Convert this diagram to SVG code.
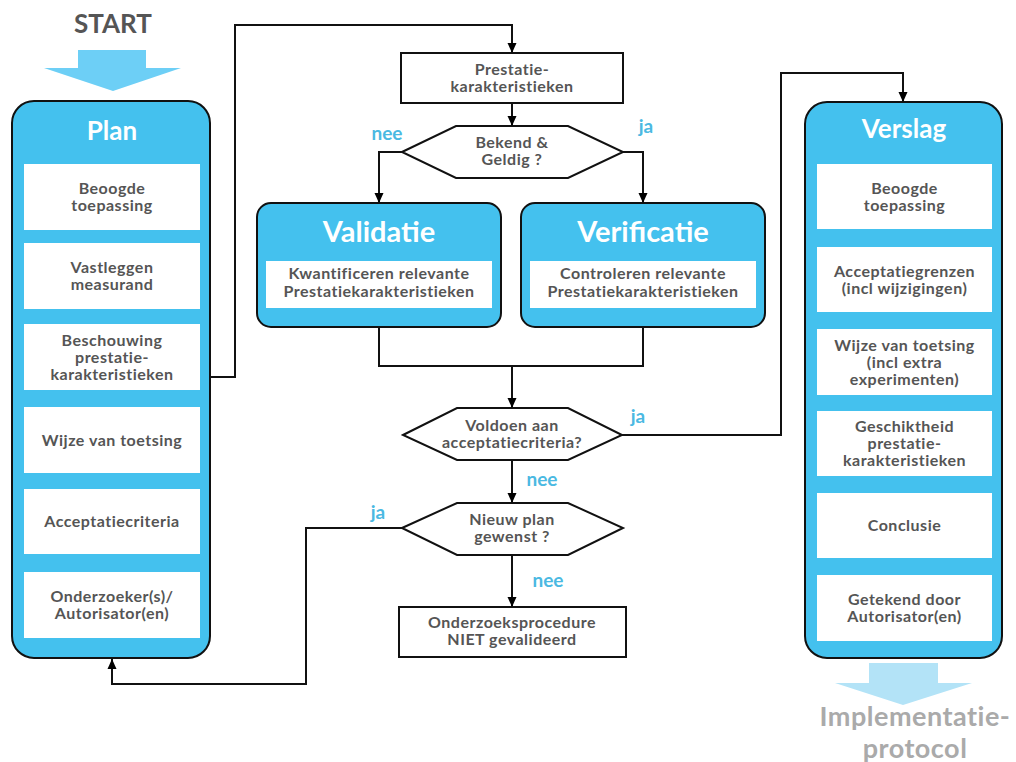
<svg xmlns="http://www.w3.org/2000/svg" width="1016" height="762" viewBox="0 0 1016 762">
<defs>
<marker id="ah" markerUnits="userSpaceOnUse" markerWidth="10" markerHeight="10" refX="10" refY="5" orient="auto">
<path d="M0,0.5 L10,5 L0,9.5 z" fill="#000"/>
</marker>
<style>
.panel{fill:#44c1ee;stroke:#111;stroke-width:2}
.inner{fill:#fff}
.t{font-family:Lato,"Open Sans",sans-serif;font-weight:bold;font-size:16px;letter-spacing:0.5px;fill:#555;text-anchor:middle}
.title{font-family:Lato,"Open Sans",sans-serif;font-weight:bold;font-size:26px;fill:#fff;text-anchor:middle}
.big{font-family:Lato,"Open Sans",sans-serif;font-weight:bold;font-size:29px;fill:#fff;text-anchor:middle}
.lbl{font-family:Lato,"Open Sans",sans-serif;font-weight:bold;font-size:19px;fill:#4bb9e2;text-anchor:middle}
.box{fill:#fff;stroke:#111;stroke-width:2}
.con{fill:none;stroke:#111;stroke-width:2}
.impl{font-family:Lato,"Open Sans",sans-serif;font-weight:bold;font-size:27px;letter-spacing:0.5px;fill:#aaa;text-anchor:middle}
</style>
</defs>
<rect width="1016" height="762" fill="#fff"/>

<g id="start">
<text x="113" y="33" style="font-family:Lato,'Open Sans',sans-serif;font-weight:bold;font-size:26px;fill:#555;text-anchor:middle">START</text>
<path d="M78,50 H146 V68 H181 L113,91 L44,68 H78 Z" fill="#6dcff6"/>
</g>

<g id="plan">
<rect class="panel" x="12" y="101" width="198" height="557" rx="22"/>
<text class="title" x="112" y="140">Plan</text>
<rect class="inner" x="24" y="164" width="176" height="66"/>
<text class="t" x="112" y="194">Beoogde</text>
<text class="t" x="112" y="211">toepassing</text>
<rect class="inner" x="24" y="243" width="176" height="66"/>
<text class="t" x="112" y="273">Vastleggen</text>
<text class="t" x="112" y="290">measurand</text>
<rect class="inner" x="24" y="324" width="176" height="66"/>
<text class="t" x="112" y="345.5">Beschouwing</text>
<text class="t" x="112" y="362.5">prestatie-</text>
<text class="t" x="112" y="379.5">karakteristieken</text>
<rect class="inner" x="24" y="407" width="176" height="66"/>
<text class="t" x="112" y="445.5">Wijze van toetsing</text>
<rect class="inner" x="24" y="489" width="176" height="65"/>
<text class="t" x="112" y="527">Acceptatiecriteria</text>
<rect class="inner" x="24" y="572" width="176" height="66"/>
<text class="t" x="112" y="602">Onderzoeker(s)/</text>
<text class="t" x="112" y="619">Autorisator(en)</text>
</g>

<g id="prestatie">
<rect class="box" x="401" y="53" width="222" height="50"/>
<text class="t" x="512" y="75">Prestatie-</text>
<text class="t" x="512" y="92">karakteristieken</text>
</g>

<g id="bekend">
<polygon class="box" points="402,152 456,126 568,126 623,152 568,178 456,178"/>
<text class="t" x="512" y="148">Bekend &amp;</text>
<text class="t" x="512" y="165">Geldig ?</text>
</g>

<g id="validatie">
<rect class="panel" x="257" y="203" width="244" height="124" rx="14"/>
<text class="big" x="379" y="242">Validatie</text>
<rect class="inner" x="266" y="261" width="226" height="47"/>
<text class="t" x="379" y="279">Kwantificeren relevante</text>
<text class="t" x="379" y="297">Prestatiekarakteristieken</text>
</g>

<g id="verificatie">
<rect class="panel" x="521" y="203" width="244" height="124" rx="14"/>
<text class="big" x="643" y="242">Verificatie</text>
<rect class="inner" x="530" y="261" width="226" height="47"/>
<text class="t" x="643" y="279">Controleren relevante</text>
<text class="t" x="643" y="297">Prestatiekarakteristieken</text>
</g>

<g id="voldoen">
<polygon class="box" points="403,435 457,408 568,408 622,435 568,460 457,460"/>
<text class="t" x="512" y="431">Voldoen aan</text>
<text class="t" x="512" y="448">acceptatiecriteria?</text>
</g>

<g id="nieuw">
<polygon class="box" points="402,528 457,503 568,503 623,528 568,555 457,555"/>
<text class="t" x="512" y="525">Nieuw plan</text>
<text class="t" x="512" y="542">gewenst ?</text>
</g>

<g id="niet">
<rect class="box" x="399" y="607" width="227" height="50"/>
<text class="t" x="512" y="628">Onderzoeksprocedure</text>
<text class="t" x="512" y="645">NIET gevalideerd</text>
</g>

<g id="verslag">
<rect class="panel" x="805" y="102" width="197" height="556" rx="22"/>
<text class="title" x="904" y="138">Verslag</text>
<rect class="inner" x="817" y="164" width="175" height="65"/>
<text class="t" x="904.5" y="193.5">Beoogde</text>
<text class="t" x="904.5" y="210.5">toepassing</text>
<rect class="inner" x="817" y="247" width="175" height="65"/>
<text class="t" x="904.5" y="276.5">Acceptatiegrenzen</text>
<text class="t" x="904.5" y="293.5">(incl wijzigingen)</text>
<rect class="inner" x="817" y="329" width="175" height="66"/>
<text class="t" x="904.5" y="350.5">Wijze van toetsing</text>
<text class="t" x="904.5" y="367.5">(incl extra</text>
<text class="t" x="904.5" y="384.5">experimenten)</text>
<rect class="inner" x="817" y="411" width="175" height="65"/>
<text class="t" x="904.5" y="432">Geschiktheid</text>
<text class="t" x="904.5" y="449">prestatie-</text>
<text class="t" x="904.5" y="466">karakteristieken</text>
<rect class="inner" x="817" y="493" width="175" height="65"/>
<text class="t" x="904.5" y="531">Conclusie</text>
<rect class="inner" x="817" y="575" width="175" height="66"/>
<text class="t" x="904.5" y="604.5">Getekend door</text>
<text class="t" x="904.5" y="621.5">Autorisator(en)</text>
</g>

<g id="implementatie">
<path d="M869,663 H938 V683 H972 L903,705 L835,683 H869 Z" fill="#b3e3f7"/>
<text class="impl" x="915" y="726">Implementatie-</text>
<text class="impl" x="915" y="758">protocol</text>
</g>

<g id="connectors">
<path class="con" d="M210,377 H235 V25 H512 V53" marker-end="url(#ah)"/>
<path class="con" d="M512,103 V126" marker-end="url(#ah)"/>
<path class="con" d="M402,152 H379 V203" marker-end="url(#ah)"/>
<path class="con" d="M623,152 H643 V203" marker-end="url(#ah)"/>
<path class="con" d="M379,327 V366 H643 V327"/>
<path class="con" d="M512,366 V408" marker-end="url(#ah)"/>
<path class="con" d="M622,435 H781 V73 H903 V102" marker-end="url(#ah)"/>
<path class="con" d="M512,460 V503" marker-end="url(#ah)"/>
<path class="con" d="M402,528 H306 V684 H112 V659" marker-end="url(#ah)"/>
<path class="con" d="M512,555 V607" marker-end="url(#ah)"/>
</g>

<g id="labels">
<text class="lbl" x="387" y="140">nee</text>
<text class="lbl" x="646" y="133">ja</text>
<text class="lbl" x="638" y="423">ja</text>
<text class="lbl" x="542" y="486">nee</text>
<text class="lbl" x="378" y="519">ja</text>
<text class="lbl" x="548" y="587">nee</text>
</g>
</svg>
